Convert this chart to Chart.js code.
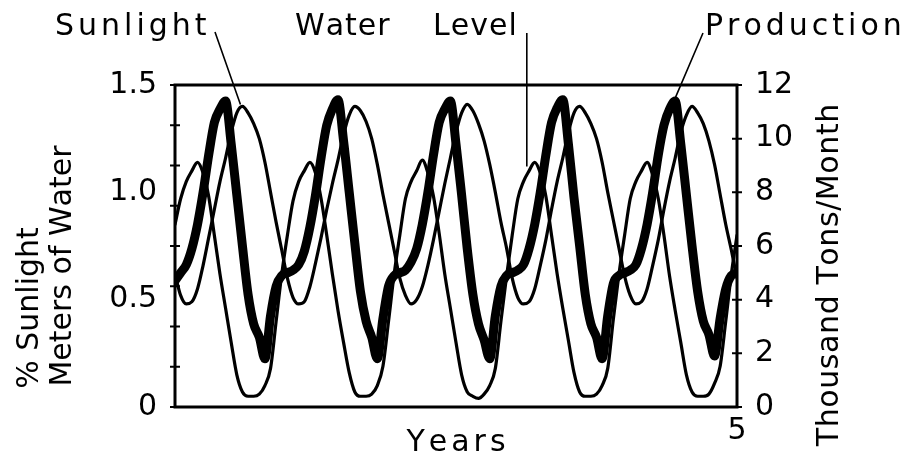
<!DOCTYPE html>
<html>
<head>
<meta charset="utf-8">
<script src="https://cdn.jsdelivr.net/npm/chart.js@4.4.1/dist/chart.umd.min.js"></script>
<style>
  html, body { margin: 0; padding: 0; background: #fff; }
  #wrap { width: 910px; height: 463px; }
</style>
</head>
<body>
<div id="wrap"><canvas id="chart" width="910" height="463"></canvas></div>
<script>
// time in years, sampled every 0.05 yr
const years = [
  0.00, 0.05, 0.10, 0.15, 0.20, 0.25, 0.30, 0.35, 0.40, 0.45, 0.50, 0.55, 0.60, 0.65, 0.70, 0.75, 0.80, 0.85, 0.90, 0.95,
  1.00, 1.05, 1.10, 1.15, 1.20, 1.25, 1.30, 1.35, 1.40, 1.45, 1.50, 1.55, 1.60, 1.65, 1.70, 1.75, 1.80, 1.85, 1.90, 1.95,
  2.00, 2.05, 2.10, 2.15, 2.20, 2.25, 2.30, 2.35, 2.40, 2.45, 2.50, 2.55, 2.60, 2.65, 2.70, 2.75, 2.80, 2.85, 2.90, 2.95,
  3.00, 3.05, 3.10, 3.15, 3.20, 3.25, 3.30, 3.35, 3.40, 3.45, 3.50, 3.55, 3.60, 3.65, 3.70, 3.75, 3.80, 3.85, 3.90, 3.95,
  4.00, 4.05, 4.10, 4.15, 4.20, 4.25, 4.30, 4.35, 4.40, 4.45, 4.50, 4.55, 4.60, 4.65, 4.70, 4.75, 4.80, 4.85, 4.90, 4.95,
  5.00
];

// % sunlight (left axis)
const sunlight = [
  0.62, 0.52, 0.48, 0.49, 0.55, 0.66, 0.79, 0.92, 1.05, 1.16, 1.28, 1.37, 1.40, 1.37, 1.32, 1.25, 1.14, 1.00, 0.86, 0.73,
  0.60, 0.51, 0.48, 0.49, 0.56, 0.67, 0.79, 0.92, 1.04, 1.15, 1.27, 1.36, 1.40, 1.38, 1.33, 1.25, 1.13, 0.99, 0.86, 0.73,
  0.60, 0.52, 0.48, 0.50, 0.56, 0.66, 0.78, 0.91, 1.04, 1.16, 1.28, 1.37, 1.41, 1.38, 1.32, 1.24, 1.13, 1.00, 0.86, 0.74,
  0.60, 0.51, 0.48, 0.49, 0.55, 0.66, 0.78, 0.92, 1.05, 1.16, 1.28, 1.37, 1.40, 1.37, 1.32, 1.25, 1.14, 1.00, 0.87, 0.74,
  0.61, 0.52, 0.48, 0.49, 0.55, 0.66, 0.78, 0.92, 1.05, 1.16, 1.28, 1.36, 1.40, 1.37, 1.32, 1.24, 1.13, 0.99, 0.85, 0.73,
  0.60
];

// meters of water (left axis)
const waterLevel = [
  0.85, 0.97, 1.05, 1.10, 1.14, 1.09, 0.98, 0.80, 0.62, 0.46, 0.30, 0.15, 0.07, 0.05, 0.05, 0.06, 0.10, 0.18, 0.40, 0.62,
  0.80, 0.96, 1.05, 1.10, 1.14, 1.09, 0.97, 0.80, 0.62, 0.45, 0.30, 0.16, 0.07, 0.05, 0.05, 0.06, 0.10, 0.19, 0.40, 0.62,
  0.80, 0.97, 1.05, 1.10, 1.15, 1.09, 0.98, 0.81, 0.62, 0.46, 0.30, 0.15, 0.07, 0.05, 0.04, 0.06, 0.10, 0.18, 0.40, 0.61,
  0.80, 0.97, 1.05, 1.10, 1.14, 1.09, 0.98, 0.80, 0.62, 0.46, 0.31, 0.16, 0.07, 0.05, 0.05, 0.06, 0.10, 0.18, 0.41, 0.62,
  0.80, 0.97, 1.05, 1.10, 1.14, 1.08, 0.97, 0.80, 0.61, 0.45, 0.30, 0.15, 0.07, 0.05, 0.05, 0.06, 0.11, 0.19, 0.40, 0.62,
  0.80
];

// thousand tons / month (right axis)
const production = [
  4.7, 5.0, 5.3, 5.9, 6.8, 8.0, 9.4, 10.6, 11.1, 11.4, 9.8, 7.9, 6.0, 4.2, 3.1, 2.6, 1.8, 3.4, 4.5, 4.9,
  5.0, 5.1, 5.3, 5.8, 6.7, 7.9, 9.3, 10.5, 11.1, 11.45, 9.9, 8.0, 6.1, 4.3, 3.2, 2.6, 1.8, 3.3, 4.5, 4.9,
  5.0, 5.1, 5.4, 5.9, 6.8, 8.0, 9.4, 10.6, 11.1, 11.4, 9.8, 7.9, 5.9, 4.2, 3.1, 2.5, 1.8, 3.4, 4.5, 4.9,
  5.0, 5.1, 5.3, 5.9, 6.8, 8.0, 9.4, 10.6, 11.15, 11.45, 9.8, 7.8, 6.0, 4.2, 3.1, 2.6, 1.8, 3.4, 4.6, 4.9,
  5.0, 5.1, 5.3, 5.9, 6.8, 8.0, 9.4, 10.5, 11.1, 11.4, 9.8, 7.9, 6.0, 4.3, 3.2, 2.7, 1.9, 3.3, 4.4, 4.9,
  5.0
];

const leftTicks = [0, 0.5, 1.0, 1.5];
const leftMarks = [0, 0.1875, 0.375, 0.5625, 0.75, 0.9375, 1.125, 1.3125, 1.5];
const rightTicks = [0, 2, 4, 6, 8, 10, 12];
const xTicks = [5];

const FONT = '"DejaVu Sans", Verdana, sans-serif';
const FS = 30;

// draw text char by char so we can spread the letters a bit
function spacedText(ctx, text, x, y, spacing) {
  let cx = x;
  for (const ch of text) {
    ctx.fillText(ch, cx, y);
    cx += ctx.measureText(ch).width + spacing;
  }
  return cx - spacing - x;
}
function textWidth(ctx, text, spacing) {
  let w = 0;
  for (const ch of text) w += ctx.measureText(ch).width + spacing;
  return w - spacing;
}

const framePlugin = {
  id: 'frame',
  afterDraw(chart) {
    const { ctx, chartArea: a, scales } = chart;
    ctx.save();
    ctx.strokeStyle = '#000';
    ctx.fillStyle = '#000';

    // box
    ctx.lineWidth = 3;
    ctx.strokeRect(a.left, a.top, a.right - a.left, a.bottom - a.top);

    // tick marks crossing the axes
    ctx.lineWidth = 2;
    ctx.beginPath();
    leftMarks.forEach(v => {
      const y = scales.y.getPixelForValue(v);
      ctx.moveTo(a.left - 5, y); ctx.lineTo(a.left + 5, y);
    });
    rightTicks.forEach(v => {
      const y = scales.y1.getPixelForValue(v);
      ctx.moveTo(a.right - 5, y); ctx.lineTo(a.right + 5, y);
    });
    ctx.stroke();

    // pointer lines from the labels to the curves
    ctx.lineWidth = 1.6;
    ctx.beginPath();
    ctx.moveTo(215, 32);
    ctx.lineTo(scales.x.getPixelForValue(0.6) - 2, scales.y.getPixelForValue(1.40) - 2);
    const wx = scales.x.getPixelForValue(3.13);
    ctx.moveTo(wx, 33);
    ctx.lineTo(wx, scales.y.getPixelForValue(1.12));
    ctx.moveTo(703, 33);
    ctx.lineTo(scales.x.getPixelForValue(4.45), scales.y1.getPixelForValue(11.4) - 3);
    ctx.stroke();

    // top labels
    ctx.font = FS + 'px ' + FONT;
    ctx.textBaseline = 'alphabetic';
    ctx.textAlign = 'left';
    spacedText(ctx, 'Sunlight', 55, 35, 4);
    spacedText(ctx, 'Water', 295, 35, 1);
    spacedText(ctx, 'Level', 433, 35, 1);
    spacedText(ctx, 'Production', 705, 35, 4);

    // x title
    const yw = textWidth(ctx, 'Years', 4);
    spacedText(ctx, 'Years', (a.left + a.right) / 2 - yw / 2, 451, 4);

    // rotated axis titles (read bottom to top)
    ctx.textBaseline = 'middle';
    const rot = (text, cx, cy, spacing) => {
      ctx.save();
      ctx.translate(cx, cy);
      ctx.rotate(-Math.PI / 2);
      const w = textWidth(ctx, text, spacing);
      spacedText(ctx, text, -w / 2, 0, spacing);
      ctx.restore();
    };
    rot('% Sunlight', 30, 308, 0);
    rot('Meters of Water', 63, 266, 0);
    rot('Thousand Tons/Month', 830, 275, 0.6);

    ctx.restore();
  }
};

const tickFont = { family: FONT, size: FS };

new Chart(document.getElementById('chart'), {
  type: 'line',
  data: {
    labels: years,
    datasets: [
      { label: 'Sunlight', data: sunlight, yAxisID: 'y', borderWidth: 3.2 },
      { label: 'Water Level', data: waterLevel, yAxisID: 'y', borderWidth: 3.2 },
      { label: 'Production', data: production, yAxisID: 'y1', borderWidth: 9 }
    ]
  },
  options: {
    responsive: false,
    animation: false,
    layout: { padding: { left: 10, right: 59, top: 85, bottom: 0 } },
    elements: {
      point: { radius: 0 },
      line: {
        borderColor: '#000',
        cubicInterpolationMode: 'monotone',
        borderCapStyle: 'round',
        borderJoinStyle: 'round'
      }
    },
    plugins: { legend: { display: false }, tooltip: { enabled: false } },
    scales: {
      x: {
        type: 'linear',
        min: 0,
        max: 5,
        grid: { display: false, drawTicks: false },
        border: { display: false },
        afterBuildTicks: s => { s.ticks = xTicks.map(v => ({ value: v })); },
        ticks: { font: tickFont, color: '#000', padding: 6, maxRotation: 0, autoSkip: false },
        afterFit: s => { s.height = 56; }
      },
      y: {
        position: 'left',
        min: 0,
        max: 1.5,
        grid: { display: false, drawTicks: false },
        border: { display: false },
        afterBuildTicks: s => { s.ticks = leftTicks.map(v => ({ value: v })); },
        ticks: {
          font: tickFont, color: '#000', padding: 18,
          callback: v => v === 0 ? '0' : v.toFixed(1)
        },
        afterFit: s => { s.width = 165; }
      },
      y1: {
        position: 'right',
        min: 0,
        max: 12,
        grid: { display: false, drawTicks: false },
        border: { display: false },
        afterBuildTicks: s => { s.ticks = rightTicks.map(v => ({ value: v })); },
        ticks: { font: tickFont, color: '#000', padding: 18 },
        afterFit: s => { s.width = 114; }
      }
    }
  },
  plugins: [framePlugin]
});
</script>
</body>
</html>
